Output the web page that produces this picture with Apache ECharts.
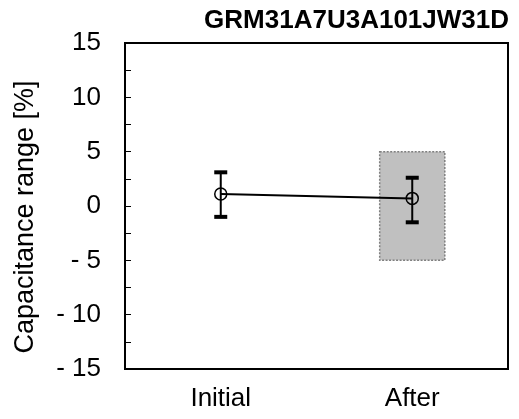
<!DOCTYPE html>
<html>
<head>
<meta charset="utf-8">
<script src="https://cdn.jsdelivr.net/npm/echarts@6/dist/echarts.min.js"></script>
<style>html,body{margin:0;padding:0;background:#fff;}#c{width:519px;height:419px;}</style>
</head>
<body>
<div id="c"></div>
<script>
const titleText = 'GRM31A7U3A101JW31D';
const categories = ['Initial', 'After'];
const meanValues = [1.1, 0.7];
const errLow = [-1.0, -1.5];
const errHigh = [3.1, 2.6];
const specCategory = [1];
const specLow = [-5];
const specHigh = [5];
const yMin = -15, yMax = 15, yStep = 2.5;

const chart = echarts.init(document.getElementById('c'), null, {renderer: 'canvas'});
const FONT = 'Arial, "Liberation Sans", sans-serif';

chart.setOption({
  animation: false,
  title: {
    text: titleText, right: 5, top: 3,
    textStyle: {fontFamily: FONT, fontWeight: 'bold', fontSize: 26, color: '#000'}
  },
  grid: {left: 125, right: 11, top: 43, bottom: 50, show: true, borderColor: '#000', borderWidth: 2, backgroundColor: 'transparent'},
  xAxis: {
    type: 'category', data: categories, boundaryGap: true,
    axisLine: {onZero: false, lineStyle: {color: '#000', width: 2}},
    axisTick: {show: false},
    axisLabel: {fontFamily: FONT, fontSize: 26, color: '#000', margin: 17},
    splitLine: {show: false}
  },
  yAxis: {
    type: 'value', min: yMin, max: yMax, interval: yStep,
    name: 'Capacitance range [%]', nameLocation: 'middle', nameGap: 86,
    nameTextStyle: {fontFamily: FONT, fontSize: 27, color: '#000', padding: [0, 22, 0, 0]},
    axisLine: {show: true, lineStyle: {color: '#000', width: 2}},
    axisTick: {show: true, inside: true, length: 6, lineStyle: {color: '#000', width: 1}},
    axisLabel: {
      fontFamily: FONT, fontSize: 26, color: '#000', margin: 24,
      formatter: v => (Math.abs(v % 5) > 1e-9 ? '' : (v < 0 ? '- ' + Math.abs(v) : String(v)))
    },
    splitLine: {show: false}
  },
  series: [
    {
      type: 'custom', z: 1,
      data: specCategory.map((c, i) => [c, specLow[i], specHigh[i]]),
      renderItem: (params, api) => {
        const p1 = api.coord([api.value(0), api.value(2)]);
        const p2 = api.coord([api.value(0), api.value(1)]);
        const w = api.size([1, 0])[0] * 0.34;
        return {type: 'rect', shape: {x: p1[0] - w / 2, y: p1[1], width: w, height: p2[1] - p1[1]},
          style: {fill: '#c0c0c0', stroke: '#7f7f7f', lineWidth: 1.5, lineDash: [2, 1.5]}};
      }
    },
    {
      type: 'line', z: 3, data: meanValues,
      symbol: 'circle', symbolSize: 12,
      lineStyle: {color: '#000', width: 2},
      itemStyle: {color: 'rgba(0,0,0,0)', borderColor: '#000', borderWidth: 1.5}
    },
    {
      type: 'custom', z: 4,
      data: categories.map((c, i) => [i, errLow[i], errHigh[i]]),
      renderItem: (params, api) => {
        const top = api.coord([api.value(0), api.value(2)]);
        const bot = api.coord([api.value(0), api.value(1)]);
        const hw = 6.5;
        return {type: 'group', children: [
          {type: 'line', shape: {x1: top[0], y1: top[1], x2: bot[0], y2: bot[1]}, style: {stroke: '#000', lineWidth: 2}},
          {type: 'line', shape: {x1: top[0] - hw, y1: top[1], x2: top[0] + hw, y2: top[1]}, style: {stroke: '#000', lineWidth: 4}},
          {type: 'line', shape: {x1: bot[0] - hw, y1: bot[1], x2: bot[0] + hw, y2: bot[1]}, style: {stroke: '#000', lineWidth: 4}}
        ]};
      }
    }
  ]
});
</script>
</body>
</html>
